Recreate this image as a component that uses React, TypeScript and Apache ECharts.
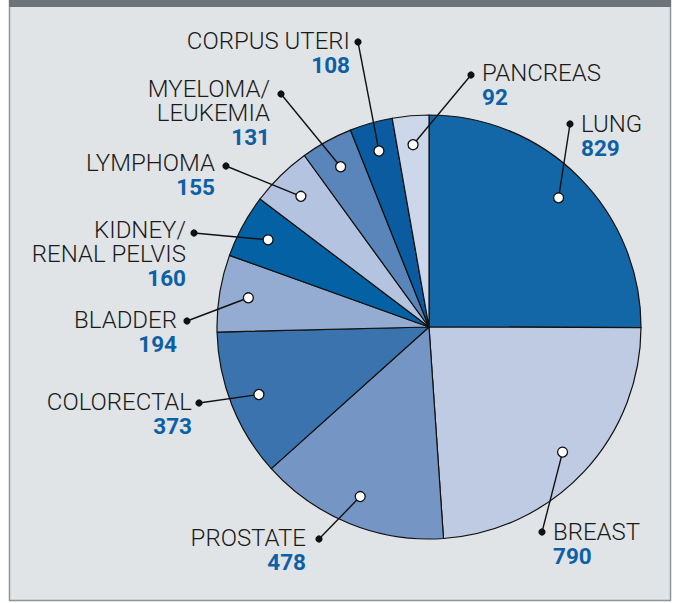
import React, { useEffect, useRef } from "react";
import * as echarts from "echarts";

// ---- data ----
const names = [
  "LUNG",
  "BREAST",
  "PROSTATE",
  "COLORECTAL",
  "BLADDER",
  "KIDNEY/\nRENAL PELVIS",
  "LYMPHOMA",
  "MYELOMA/\nLEUKEMIA",
  "CORPUS UTERI",
  "PANCREAS",
];
const values = [829, 790, 478, 373, 194, 160, 155, 131, 108, 92];

// ---- styles / layout ----
const colors = [
  "#1467a6",
  "#bfcbe3",
  "#7596c5",
  "#3a73ae",
  "#94acd2",
  "#0462a4",
  "#b4c3e0",
  "#5a85bb",
  "#0a5b9f",
  "#cdd7ea",
];
// label anchor: side ("L" = label on the left, right-aligned), text x, text top y, end-dot x, y
const labelSide = ["R", "R", "L", "L", "L", "L", "L", "L", "L", "R"];
const labelX = [581, 553, 306, 192, 177, 186, 215, 270, 350, 482];
const labelTop = [112, 520, 526, 390, 308, 218, 151, 77, 29, 61];
const dotX = [570, 542, 319, 199, 187, 194, 226, 281, 358, 471];
const dotY = [124, 532, 539, 403, 321, 233, 166, 94, 42, 75];

const CX = 429;
const CY = 327;
const R = 212;
const DOT_R = 183;

export default function App() {
  const ref = useRef<HTMLDivElement>(null);
  useEffect(() => {
    if (!ref.current) return;
    const chart = echarts.init(ref.current, null, { renderer: "svg" });
    const total = values.reduce((a, b) => a + b, 0);
    let acc = 0;
    const inner = values.map((v) => {
      const mid = ((acc + v / 2) / total) * Math.PI * 2;
      acc += v;
      return [CX + DOT_R * Math.sin(mid), CY - DOT_R * Math.cos(mid)];
    });

    const graphics: any[] = [
      {
        type: "rect",
        z: -10,
        shape: { x: 9.5, y: 0, width: 661, height: 600.5 },
        style: { fill: "#e0e4e7", stroke: "#8c9398", lineWidth: 1.5 },
        silent: true,
      },
      {
        type: "rect",
        z: -9,
        shape: { x: 9, y: 0, width: 662, height: 7 },
        style: { fill: "#6b747a" },
        silent: true,
      },
    ];
    values.forEach((_, i) => {
      graphics.push({
        type: "line",
        z: 99,
        shape: { x1: inner[i][0], y1: inner[i][1], x2: dotX[i], y2: dotY[i] },
        style: { stroke: "#111", lineWidth: 1.4 },
        silent: true,
      });
      graphics.push({
        type: "circle",
        z: 100,
        shape: { cx: inner[i][0], cy: inner[i][1], r: 5 },
        style: { fill: "#ffffff", stroke: "#111", lineWidth: 1.3 },
        silent: true,
      });
      graphics.push({
        type: "circle",
        z: 100,
        shape: { cx: dotX[i], cy: dotY[i], r: 3.6 },
        style: { fill: "#111" },
        silent: true,
      });
    });

    chart.setOption({
      animation: false,
      backgroundColor: "#ffffff",
      graphic: graphics,
      series: [
        {
          type: "pie",
          center: [CX, CY],
          radius: R,
          startAngle: 90,
          clockwise: true,
          avoidLabelOverlap: false,
          itemStyle: { borderColor: "#111", borderWidth: 1.2 },
          emphasis: { disabled: true },
          data: values.map((v, i) => ({
            name: names[i],
            value: v,
            itemStyle: { color: colors[i] },
          })),
          label: {
            show: true,
            formatter: (p: any) => `{n|${p.name.replace("\n", "}\n{n|")}}\n{v|${p.value}}`,
            rich: {
              n: {
                fontFamily: "Roboto",
                fontWeight: 300,
                fontSize: 24,
                lineHeight: 24,
                color: "#1a1a1a",
              },
              v: {
                fontFamily: "Roboto",
                fontWeight: "bold",
                fontSize: 22.5,
                lineHeight: 24,
                color: "#0d60a5",
              },
            },
          },
          labelLine: { show: false },
          labelLayout: (p: any) => {
            const i = p.dataIndex;
            const left = labelSide[i] === "L";
            return {
              x: labelX[i],
              y: labelTop[i],
              align: left ? "right" : "left",
              verticalAlign: "top",
            };
          },
        },
      ],
    });
    return () => chart.dispose();
  }, []);
  return (
    <div
      ref={ref}
      style={{ position: "fixed", left: 0, top: 0, width: 678, height: 603 }}
    />
  );
}
